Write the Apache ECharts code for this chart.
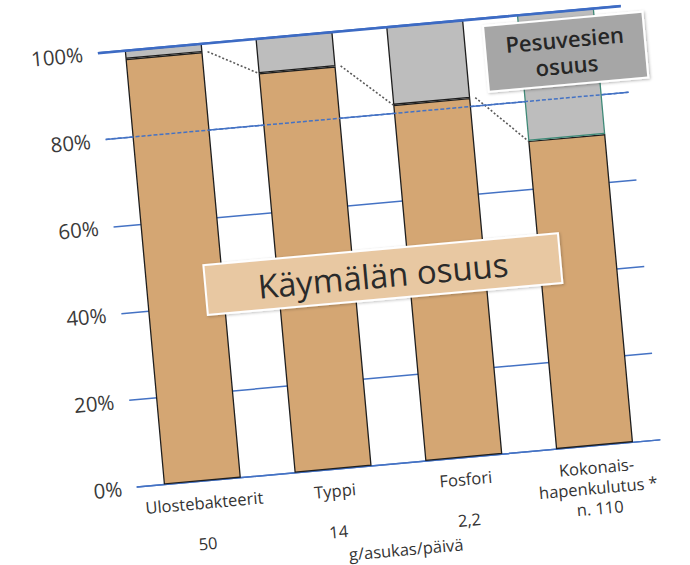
<!DOCTYPE html>
<html>
<head>
<meta charset="utf-8">
<script src="https://cdn.jsdelivr.net/npm/echarts@6/dist/echarts.min.js"></script>
<style>
  html, body { margin: 0; padding: 0; background: #ffffff; overflow: hidden; width: 690px; height: 565px; }
  #chart {
    position: absolute; left: 0; top: 0; width: 700px; height: 600px;
    transform: rotate(-5.15deg);
    transform-origin: 137px 487px;
  }
</style>
</head>
<body>
<div id="chart"></div>
<script>
// ---- data ----
const categories = ['Ulostebakteerit', 'Typpi', 'Fosfori', 'Kokonais-\nhapenkulutus *'];
const amounts = ['50', '14', '2,2', 'n. 110'];
const amountUnit = 'g/asukas/päivä';
const toiletShare = [98, 92, 82, 71];      // Käymälän osuus (%)
const washWaterShare = [2, 8, 18, 29];     // Pesuvesien osuus (%)
const yMin = 0, yMax = 100, yStep = 20;
const overlayLine = 80;                    // gridline drawn over the bars
const toiletLabel = 'Käymälän osuus';
const washLabel = 'Pesuvesien\nosuus';

// ---- chart ----
const FONT = '"Open Sans", "Noto Sans", sans-serif';
const GAP = 0.41;
const chart = echarts.init(document.getElementById('chart'), null, { renderer: 'svg' });

const seriesLineData = toiletShare.slice(0, -1).map((v, i) => [i, v, i + 1, toiletShare[i + 1]]);

chart.setOption({
  animation: false,
  backgroundColor: '#ffffff',
  grid: { left: 137, top: 51, width: 525, height: 436, containLabel: false },
  xAxis: {
    type: 'category',
    data: categories,
    axisLine: { show: true, lineStyle: { color: '#4472C4', width: 1.5 } },
    axisTick: { show: false },
    axisLabel: {
      interval: 0,
      margin: 11,
      fontFamily: FONT,
      fontSize: 16.5,
      lineHeight: 20.5,
      color: '#333333',
      formatter: function (val, idx) {
        const lines = val.split('\n').length;
        return val + (lines === 1 ? '\n\n' : '\n') + amounts[idx];
      }
    },
    name: amountUnit,
    nameLocation: 'middle',
    nameGap: 77,
    nameTextStyle: { fontFamily: FONT, fontSize: 16.5, color: '#333333' }
  },
  yAxis: {
    type: 'value',
    min: yMin, max: yMax, interval: yStep,
    axisLine: { show: false },
    axisTick: { show: false },
    axisLabel: {
      margin: 15,
      fontFamily: FONT,
      fontSize: 20.5,
      color: '#3a3a3a',
      formatter: '{value}%'
    },
    splitLine: { show: true, lineStyle: { color: '#4472C4', width: 1.5 } }
  },
  series: [
    {
      name: 'Käymälä',
      type: 'bar',
      stack: 'total',
      barCategoryGap: (GAP * 100) + '%',
      data: toiletShare,
      itemStyle: { color: '#D4A673', borderColor: '#1e1e1e', borderWidth: 1.3 },
      z: 2
    },
    {
      name: 'Pesuvedet',
      type: 'bar',
      stack: 'total',
      data: washWaterShare.map((v, i) => i === washWaterShare.length - 1
        ? { value: v, itemStyle: { borderColor: '#3f8a78' } }
        : v),
      itemStyle: { color: '#BDBDBD', borderColor: '#1e1e1e', borderWidth: 1.3 },
      z: 2
    },
    {
      type: 'custom',
      data: seriesLineData,
      encode: { x: [0, 2], y: [1, 3] },
      z: 3,
      renderItem: function (params, api) {
        const p1 = api.coord([api.value(0), api.value(1)]);
        const p2 = api.coord([api.value(2), api.value(3)]);
        const hw = api.size([1, 0])[0] * (1 - GAP) / 2;
        return {
          type: 'line',
          shape: { x1: p1[0] + hw + 5, y1: p1[1], x2: p2[0] - hw, y2: p2[1] },
          style: { stroke: '#5a5a5a', lineWidth: 1.6, lineDash: [2, 2] }
        };
      },
      markLine: {
        silent: true,
        symbol: 'none',
        label: { show: false },
        data: [
          { yAxis: yMax, lineStyle: { color: '#3d6bc4', width: 2.6, type: 'solid' } },
          { yAxis: overlayLine, lineStyle: { color: '#4472C4', width: 1.5, type: [4, 2] } }
        ]
      }
    }
  ],
  graphic: {
    elements: [
      {
        type: 'rect', z: 100, zlevel: 1,
        shape: { x: 223, y: 272, width: 356, height: 50 },
        style: { fill: '#E8C8A2', stroke: '#ffffff', lineWidth: 2,
                 shadowBlur: 3, shadowColor: 'rgba(0,0,0,0.25)', shadowOffsetX: 1, shadowOffsetY: 1 }
      },
      {
        type: 'text', z: 101, zlevel: 1,
        style: { x: 401, y: 298, text: toiletLabel, align: 'center', verticalAlign: 'middle',
                 font: '33px ' + FONT, fill: '#2a2a2a' }
      },
      {
        type: 'rect', z: 100, zlevel: 1,
        shape: { x: 523, y: 59, width: 160, height: 66 },
        style: { fill: '#A6A6A6', stroke: '#ffffff', lineWidth: 2,
                 shadowBlur: 3, shadowColor: 'rgba(0,0,0,0.3)', shadowOffsetX: 1, shadowOffsetY: 1 }
      },
      {
        type: 'text', z: 101, zlevel: 1,
        style: { x: 603, y: 92, text: washLabel, align: 'center', verticalAlign: 'middle',
                 font: '600 22px ' + FONT, lineHeight: 26, fill: '#262626' }
      }
    ]
  }
});
</script>
</body>
</html>
